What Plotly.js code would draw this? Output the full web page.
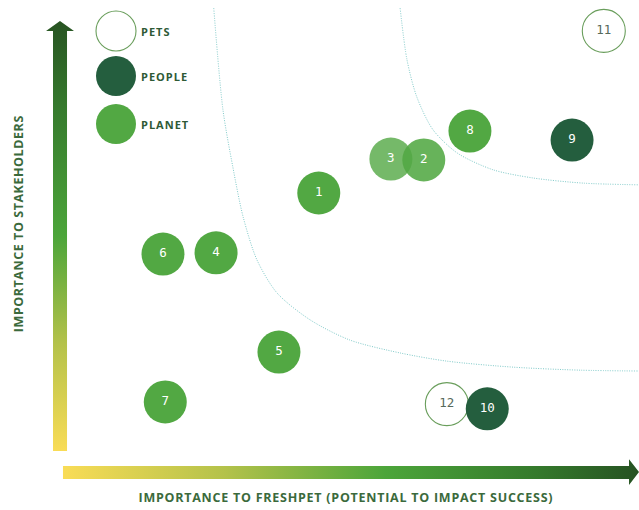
<!DOCTYPE html>
<html>
<head>
<meta charset="utf-8">
<script src="https://cdn.plot.ly/plotly-3.0.1.min.js"></script>
<style>
html,body{margin:0;padding:0;background:#fff;}
#chart{width:639px;height:510px;}
</style>
</head>
<body>
<div id="chart"></div>
<script>
// ---- data ----
const ids          = ['1','2','3','4','5','6','7','8','9','10','11','12'];
const freshpet     = [4.45, 6.27, 5.70, 2.67, 3.76, 1.75, 1.79, 7.07, 8.84, 7.37, 9.39, 6.67];
const stakeholders = [6.00, 6.77, 6.79, 4.61, 2.30, 4.58, 1.14, 7.44, 7.23, 0.98, 9.77, 1.09];
const groups       = ['PLANET','PLANET','PLANET','PLANET','PLANET','PLANET','PLANET','PLANET','PEOPLE','PEOPLE','PETS','PETS'];
const legendLabels = ['PETS','PEOPLE','PLANET'];

// threshold curves
const curveLowX  = [2.63, 2.79, 2.96, 3.14, 3.38, 3.73, 4.30, 4.99, 5.86, 6.67, 7.82, 8.98, 10.0];
const curveLowY  = [10.30, 7.93, 6.61, 5.44, 4.44, 3.67, 3.05, 2.58, 2.28, 2.09, 1.95, 1.88, 1.86];
const curveHighX = [5.86, 5.98, 6.15, 6.43, 6.85, 7.47, 8.16, 9.03, 10.0];
const curveHighY = [10.30, 9.09, 8.23, 7.47, 6.93, 6.54, 6.35, 6.23, 6.19];

const xTitle = 'IMPORTANCE TO FRESHPET (POTENTIAL TO IMPACT SUCCESS)';
const yTitle = 'IMPORTANCE TO STAKEHOLDERS';

// ---- styles ----
const W = 639, H = 510;
const PLANET = '#52a843', PEOPLE = '#245e3e', PETLINE = '#6a9e5c';
const style = {
  PLANET: {fill: PLANET, line: PLANET, lw: 0, text: '#ffffff'},
  PEOPLE: {fill: PEOPLE, line: PEOPLE, lw: 0, text: '#ffffff'},
  PETS:   {fill: 'rgba(255,255,255,0)', line: PETLINE, lw: 1.1, text: '#56695b'}
};
const pointOpacity = {'2': 0.88, '3': 0.8};
const DIAM = 43;

const xr = [-62/57.7, 577/57.7];
const yr = [-59/43, 451/43];

const traces = [];

// gradient arrows
const vArrowX = [-0.156, 0.087, 0.087, 0.208, -0.035, -0.277, -0.156, -0.156];
const vArrowY = [0, 0, 9.767, 9.767, 10.0, 9.767, 9.767, 0];
traces.push({
  type:'scatter', mode:'lines', x:vArrowX, y:vArrowY, fill:'toself',
  line:{width:0}, hoverinfo:'skip', showlegend:false,
  fillgradient:{type:'vertical', colorscale:[[0,'#f9dc56'],[0.25,'#b4c24a'],[0.5,'#4ca53a'],[0.8,'#367a2d'],[1,'#275322']]}
});
const hArrowX = [0.017, 9.827, 9.827, 10.0, 9.827, 9.827, 0.017, 0.017];
const hArrowY = [-0.349, -0.349, -0.19, -0.49, -0.79, -0.651, -0.651, -0.349];
traces.push({
  type:'scatter', mode:'lines', x:hArrowX, y:hArrowY, fill:'toself',
  line:{width:0}, hoverinfo:'skip', showlegend:false,
  fillgradient:{type:'horizontal', colorscale:[[0,'#f9dc56'],[0.28,'#b4c24a'],[0.56,'#4ca53a'],[0.82,'#357a2c'],[1,'#265222']]}
});

// curves
[[curveLowX, curveLowY],[curveHighX, curveHighY]].forEach(c => {
  traces.push({type:'scatter', mode:'lines', x:c[0], y:c[1],
    line:{color:'#7fcac9', width:1, dash:'1px,1.4px', shape:'spline', smoothing:0.8},
    hoverinfo:'skip', showlegend:false});
});

// bubbles: pets first, then planet, then people on top
['PETS','PLANET','PEOPLE'].forEach(g => {
  const idx = ids.map((_,i)=>i).filter(i => groups[i] === g);
  const s = style[g];
  traces.push({
    type:'scatter', mode:'markers+text', name:g, showlegend:false,
    x: idx.map(i=>freshpet[i]), y: idx.map(i=>stakeholders[i]),
    text: idx.map(i=>ids[i]), textposition:'middle center',
    textfont:{family:'DejaVu Sans Mono, monospace', size:12.5, color:s.text},
    marker:{size:DIAM, color:s.fill, opacity: idx.map(i=>pointOpacity[ids[i]] || 1),
      line:{color:s.line, width:s.lw}},
    cliponaxis:false
  });
});

// legend (shapes + labels)
const legendY = [31, 76, 124];
const legendCX = 116, LD = 40;
const shapes = [], annotations = [];
legendLabels.forEach((g, k) => {
  const s = style[g];
  shapes.push({type:'circle', xref:'paper', yref:'paper', xsizemode:'pixel', ysizemode:'pixel',
    xanchor: legendCX/W, yanchor: 1 - legendY[k]/H,
    x0:-LD/2, x1:LD/2, y0:-LD/2, y1:LD/2,
    fillcolor: g==='PETS' ? '#ffffff' : s.fill, line:{color:s.line, width: g==='PETS'?1.1:0}});
  annotations.push({xref:'paper', yref:'paper', x:139/W, y:1-legendY[k]/H, xanchor:'left', yanchor:'middle', align:'left',
    text:g, showarrow:false, font:{family:'Open Sans', size:11, weight:700, color:'#2e5a36'}});
});
annotations.push({xref:'paper', yref:'paper', x:346/W, y:1-497/H, xanchor:'center', yanchor:'middle',
  text:xTitle, showarrow:false, font:{family:'Open Sans', size:12.5, weight:700, color:'#3b6a3c'}});
annotations.push({xref:'paper', yref:'paper', x:18/W, y:1-224/H, xanchor:'center', yanchor:'middle', textangle:-90,
  text:yTitle, showarrow:false, font:{family:'Open Sans', size:12.5, weight:700, color:'#3b6a3c'}});

const layout = {
  width:W, height:H, margin:{l:0,r:0,t:0,b:0},
  paper_bgcolor:'#ffffff', plot_bgcolor:'#ffffff',
  xaxis:{range:xr, visible:false, fixedrange:true},
  yaxis:{range:yr, visible:false, fixedrange:true},
  shapes, annotations, showlegend:false, hovermode:false
};
// letter spacing per annotation (legend labels, x title, y title)
const spacing = ['1px','1px','1px','0.75px','0.55px'];
Plotly.newPlot('chart', traces, layout, {displayModeBar:false, staticPlot:true}).then(gd => {
  gd.querySelectorAll('.annotation').forEach((a, i) => {
    const t = a.querySelector('.annotation-text');
    if (t && spacing[i]) t.style.letterSpacing = spacing[i];
  });
});
</script>
</body>
</html>
